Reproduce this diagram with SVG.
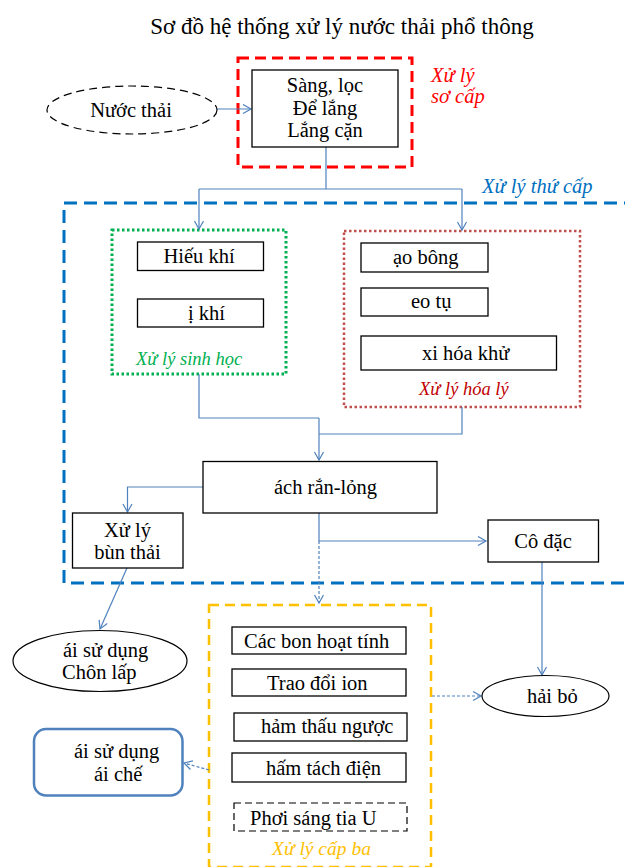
<svg xmlns="http://www.w3.org/2000/svg" width="625" height="867" viewBox="0 0 625 867">
  <style>
    text { font-family: "Liberation Serif", "Times New Roman", serif; font-size: 20.5px; fill: #000; }
    .title { font-size: 23px; }
    .c { text-anchor: middle; }
    .lbl { font-style: italic; }
    .box { fill: #fff; stroke: #000; stroke-width: 1.3; }
    .conn { fill: none; stroke: #4F81BD; stroke-width: 1.2; }
    .dot { stroke-dasharray: 3 2; }
    .grp { fill: none; }
  </style>
  <defs>
    <marker id="arr" markerWidth="12" markerHeight="12" refX="9" refY="5" orient="auto" markerUnits="userSpaceOnUse">
      <path d="M1,0.5 L9,5 L1,9.5" fill="none" stroke="#4F81BD" stroke-width="1.2"/>
    </marker>
  </defs>

  <rect width="625" height="867" fill="#fff"/>

  <text class="title c" x="342" y="34">Sơ đồ hệ thống xử lý nước thải phổ thông</text>

  <!-- stage frames -->
  <g id="primary-frame">
    <rect class="grp" x="238" y="58" width="174" height="109" stroke="#FF0000" stroke-width="3" stroke-dasharray="11 6"/>
    <text class="lbl" x="431" y="82" fill="#FF0000" style="fill:#FF0000">Xử lý</text>
    <text class="lbl" x="431" y="103" style="fill:#FF0000">sơ cấp</text>
  </g>
  <g id="secondary-frame">
    <rect class="grp" x="64" y="203" width="600" height="380" stroke="#0070C0" stroke-width="3" stroke-dasharray="13 7"/>
    <text class="lbl" x="482" y="193" style="fill:#0070C0">Xử lý thứ cấp</text>
  </g>
  <g id="bio-frame">
    <rect class="grp" x="112" y="230" width="174" height="144" stroke="#00B050" stroke-width="3" stroke-dasharray="2.5 2.5"/>
    <text class="lbl" x="136" y="365" style="fill:#00B050;font-size:18.5px">Xử lý sinh học</text>
  </g>
  <g id="physchem-frame">
    <rect class="grp" x="344" y="231" width="236" height="176" stroke="#C0504D" stroke-width="2.5" stroke-dasharray="2.5 2.5"/>
    <text class="lbl" x="419" y="395" style="fill:#C00000;font-size:18.5px">Xử lý hóa lý</text>
  </g>
  <g id="tertiary-frame">
    <rect class="grp" x="209" y="605" width="222" height="262" stroke="#FFC000" stroke-width="2.5" stroke-dasharray="10 6"/>
    <text class="lbl" x="272" y="855" style="fill:#FFC000;font-size:19.5px">Xử lý cấp ba</text>
  </g>

  <!-- connectors -->
  <g id="connectors">
    <path class="conn" d="M217,109 H251" marker-end="url(#arr)"/>
    <path class="conn" d="M326,147 V189 M199,189 H462"/>
    <path class="conn" d="M199,189 V229" marker-end="url(#arr)"/>
    <path class="conn" d="M462,189 V230" marker-end="url(#arr)"/>
    <path class="conn" d="M199,374 V418 H319 M462,407 V434 H319"/>
    <path class="conn" d="M319,418 V460" marker-end="url(#arr)"/>
    <path class="conn" d="M203,487 H127.5 V512" marker-end="url(#arr)"/>
    <path class="conn" d="M319,513 V541 H486" marker-end="url(#arr)"/>
    <path class="conn dot" d="M319,541 V603" marker-end="url(#arr)"/>
    <path class="conn" d="M542,562 V675" marker-end="url(#arr)"/>
    <path class="conn" d="M127,568 L100,629" marker-end="url(#arr)"/>
    <path class="conn dot" d="M432,696 H481" marker-end="url(#arr)"/>
    <path class="conn dot" d="M209,770 L184,763" marker-end="url(#arr)"/>
  </g>

  <!-- nodes -->
  <g id="nuoc-thai">
    <ellipse cx="132" cy="110" rx="85" ry="24" fill="#fff" stroke="#000" stroke-width="1.2" stroke-dasharray="8 5"/>
    <text class="c" x="131" y="117">Nước thải</text>
  </g>
  <g id="so-cap">
    <rect class="box" x="252" y="70" width="146" height="77"/>
    <text class="c" x="325" y="92">Sàng, lọc</text>
    <text class="c" x="325" y="114.5">Để lắng</text>
    <text class="c" x="325" y="137">Lắng cặn</text>
  </g>
  <g id="hieu-khi">
    <rect class="box" x="137.5" y="242" width="126" height="28.5"/>
    <text class="c" x="199" y="263">Hiếu khí</text>
  </g>
  <g id="ki-khi">
    <rect class="box" x="137.5" y="299" width="126" height="28"/>
    <text x="188" y="320">ị khí</text>
  </g>
  <g id="tao-bong">
    <rect class="box" x="361" y="243" width="127" height="29"/>
    <text x="393" y="264">ạo bông</text>
  </g>
  <g id="keo-tu">
    <rect class="box" x="361" y="288" width="127" height="28"/>
    <text x="411" y="308">eo tụ</text>
  </g>
  <g id="oxi-hoa-khu">
    <rect class="box" x="361" y="336" width="195.5" height="34"/>
    <text x="422" y="360">xi hóa khử</text>
  </g>
  <g id="tach-ran-long">
    <rect class="box" x="203" y="461.5" width="234" height="51.5"/>
    <text x="274" y="494">ách rắn-lỏng</text>
  </g>
  <g id="xu-ly-bun">
    <rect class="box" x="72.5" y="513" width="110.5" height="55"/>
    <text class="c" x="127.5" y="537">Xử lý</text>
    <text class="c" x="127.5" y="559">bùn thải</text>
  </g>
  <g id="co-dac">
    <rect class="box" x="488" y="520" width="110.5" height="42"/>
    <text class="c" x="543" y="548">Cô đặc</text>
  </g>
  <g id="chon-lap">
    <ellipse cx="100" cy="661" rx="87" ry="30.5" fill="#fff" stroke="#000" stroke-width="1.2"/>
    <text x="63" y="657">ái sử dụng</text>
    <text x="62" y="679">Chôn lấp</text>
  </g>
  <g id="thai-bo">
    <ellipse cx="545.5" cy="696" rx="63.5" ry="20.5" fill="#fff" stroke="#000" stroke-width="1.2"/>
    <text x="527" y="703">hải bỏ</text>
  </g>
  <g id="tai-che">
    <rect x="34" y="729" width="148.5" height="66.5" rx="12" fill="#fff" stroke="#4F81BD" stroke-width="2.5"/>
    <text x="74" y="758">ái sử dụng</text>
    <text x="94" y="781">ái chế</text>
  </g>
  <g id="than-hoat-tinh">
    <rect class="box" x="232" y="627" width="174" height="27"/>
    <text x="244" y="648">Các bon hoạt tính</text>
  </g>
  <g id="trao-doi-ion">
    <rect class="box" x="232" y="669" width="174" height="27"/>
    <text x="267" y="690">Trao đổi ion</text>
  </g>
  <g id="tham-thau-nguoc">
    <rect class="box" x="234" y="713" width="173" height="28"/>
    <text x="261" y="733">hảm thấu ngược</text>
  </g>
  <g id="tham-tach-dien">
    <rect class="box" x="232" y="753" width="174" height="29"/>
    <text x="266" y="775">hấm tách điện</text>
  </g>
  <g id="phoi-sang-uv">
    <rect x="234" y="803" width="173" height="28" fill="#fff" stroke="#000" stroke-width="1.2" stroke-dasharray="7 4"/>
    <text x="250" y="825">Phơi sáng tia U</text>
  </g>
</svg>
